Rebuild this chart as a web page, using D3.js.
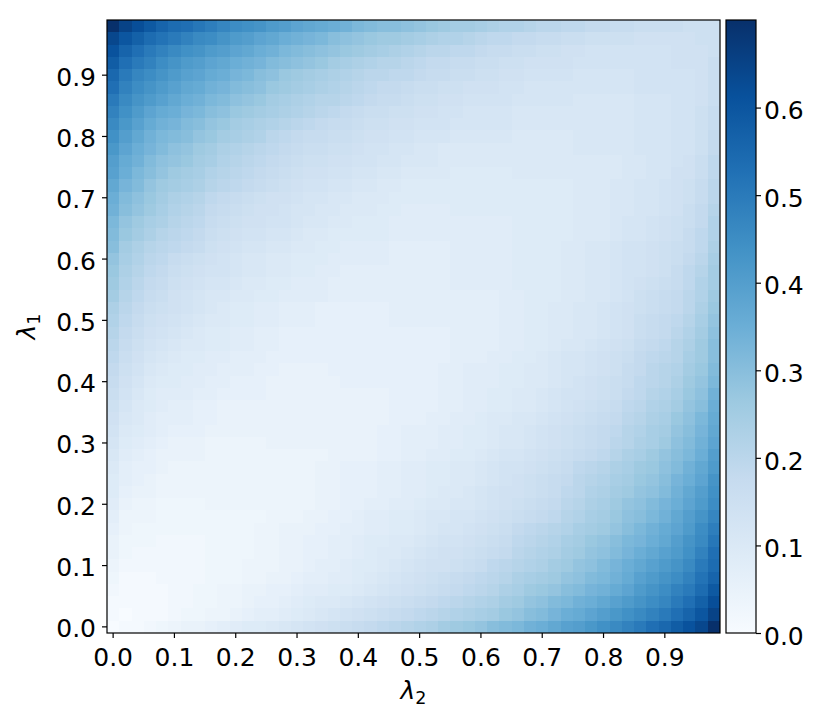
<!DOCTYPE html>
<html>
<head>
<meta charset="utf-8">
<script src="https://cdn.jsdelivr.net/npm/d3@7"></script>
<style>
  body { margin: 0; background: #fff; }
  text { font-family: "DejaVu Sans", sans-serif; }
</style>
</head>
<body>
<div id="chart"></div>
<script>
// grid steps: lambda_2 runs along x, lambda_1 along y (50 steps each)
var steps = d3.range(50);
var tickPos = [0, 5, 10, 15, 20, 25, 30, 35, 40, 45];
var tickLabels = ["0.0", "0.1", "0.2", "0.3", "0.4", "0.5", "0.6", "0.7", "0.8", "0.9"];
var cbTicks = [0.0, 0.1, 0.2, 0.3, 0.4, 0.5, 0.6];

// matplotlib "Blues" anchor colours
var blues = ["#f7fbff", "#deebf7", "#c6dbef", "#9ecae1", "#6baed6", "#4292c6", "#2171b5", "#08519c", "#08306b"];

// cell values, one row per lambda_1 step, bottom row first
var grid = [
  [.00,.01,.01,.02,.03,.04,.05,.05,.06,.07,.08,.09,.09,.10,.11,.12,.13,.14,.15,.16,.17,.18,.19,.20,.21,.22,.23,.25,.26,.27,.28,.30,.31,.32,.34,.35,.37,.39,.40,.42,.44,.46,.48,.50,.53,.55,.58,.61,.64,.70],
  [.01,.00,.01,.01,.01,.02,.03,.03,.04,.04,.05,.06,.07,.07,.08,.09,.10,.11,.12,.13,.14,.15,.16,.17,.18,.19,.20,.21,.22,.23,.24,.25,.27,.28,.30,.31,.33,.35,.36,.38,.40,.42,.44,.46,.48,.50,.53,.56,.60,.65],
  [.01,.01,.01,.01,.01,.02,.02,.03,.03,.04,.04,.05,.06,.06,.07,.08,.09,.10,.10,.11,.12,.13,.14,.15,.16,.17,.18,.19,.20,.21,.22,.23,.25,.26,.28,.29,.31,.32,.34,.35,.37,.39,.41,.43,.45,.47,.50,.53,.57,.62],
  [.02,.01,.01,.01,.01,.02,.02,.03,.03,.04,.04,.05,.05,.06,.06,.07,.08,.08,.09,.09,.10,.11,.12,.13,.14,.15,.16,.17,.18,.19,.20,.21,.23,.24,.26,.27,.28,.30,.31,.33,.34,.36,.38,.41,.43,.45,.48,.50,.54,.59],
  [.03,.01,.01,.01,.02,.02,.02,.02,.03,.03,.03,.04,.04,.05,.05,.06,.07,.07,.08,.08,.09,.10,.11,.12,.13,.14,.15,.16,.17,.18,.19,.20,.21,.23,.24,.25,.26,.28,.29,.31,.32,.34,.36,.39,.41,.43,.45,.48,.52,.56],
  [.04,.02,.02,.02,.02,.02,.02,.02,.03,.03,.03,.04,.04,.04,.05,.05,.06,.07,.07,.08,.09,.09,.10,.11,.12,.13,.14,.14,.15,.16,.17,.19,.20,.21,.22,.23,.25,.26,.28,.29,.31,.33,.35,.37,.39,.41,.43,.46,.50,.54],
  [.05,.03,.02,.02,.02,.02,.02,.02,.03,.03,.03,.03,.04,.04,.05,.05,.06,.06,.07,.07,.08,.09,.10,.10,.11,.12,.13,.14,.14,.15,.16,.17,.18,.20,.21,.22,.23,.25,.26,.28,.29,.31,.33,.35,.37,.39,.41,.44,.48,.53],
  [.05,.03,.03,.03,.02,.02,.02,.02,.03,.03,.03,.03,.04,.04,.05,.05,.06,.06,.07,.07,.08,.09,.09,.10,.10,.11,.12,.13,.13,.14,.15,.16,.17,.19,.20,.21,.22,.24,.25,.27,.28,.30,.32,.33,.35,.37,.40,.43,.46,.51],
  [.06,.04,.03,.03,.03,.03,.03,.03,.03,.03,.03,.03,.04,.04,.05,.05,.05,.06,.06,.07,.07,.08,.08,.09,.09,.10,.11,.12,.12,.13,.14,.15,.16,.18,.19,.20,.21,.22,.24,.25,.26,.28,.30,.32,.34,.36,.38,.41,.45,.49],
  [.07,.04,.04,.04,.03,.03,.03,.03,.03,.03,.03,.03,.03,.04,.04,.04,.05,.05,.06,.06,.07,.08,.08,.09,.09,.10,.11,.11,.12,.12,.13,.14,.15,.16,.17,.18,.19,.21,.22,.24,.25,.27,.29,.30,.32,.34,.37,.40,.43,.47],
  [.08,.05,.04,.04,.03,.03,.03,.03,.04,.04,.04,.04,.04,.04,.04,.04,.04,.05,.05,.06,.06,.07,.07,.08,.08,.09,.10,.10,.11,.11,.12,.13,.14,.15,.16,.17,.18,.20,.21,.23,.24,.26,.28,.29,.31,.33,.35,.38,.41,.45],
  [.09,.06,.05,.05,.04,.04,.04,.04,.04,.04,.04,.04,.04,.04,.04,.04,.04,.05,.05,.06,.06,.06,.07,.07,.08,.08,.09,.10,.10,.11,.12,.13,.14,.14,.15,.16,.17,.19,.20,.22,.23,.25,.26,.28,.29,.31,.34,.37,.40,.44],
  [.09,.07,.06,.05,.04,.04,.04,.04,.04,.04,.04,.04,.04,.04,.04,.04,.04,.05,.05,.06,.06,.06,.07,.07,.08,.08,.09,.09,.10,.10,.11,.12,.13,.14,.15,.16,.17,.18,.20,.21,.22,.24,.25,.27,.28,.30,.33,.35,.38,.43],
  [.10,.07,.06,.06,.05,.04,.04,.04,.04,.04,.04,.04,.04,.04,.04,.04,.04,.05,.05,.06,.06,.06,.07,.07,.08,.08,.09,.09,.10,.10,.11,.12,.13,.13,.14,.15,.16,.17,.19,.20,.21,.23,.24,.26,.27,.29,.31,.34,.37,.41],
  [.11,.08,.07,.06,.05,.05,.05,.05,.04,.04,.04,.04,.04,.04,.04,.04,.04,.04,.05,.05,.05,.05,.06,.06,.07,.07,.08,.08,.09,.09,.10,.11,.12,.12,.13,.14,.15,.16,.17,.18,.19,.21,.23,.24,.26,.28,.30,.32,.35,.40],
  [.12,.09,.08,.07,.06,.05,.05,.05,.04,.04,.04,.04,.04,.05,.05,.05,.05,.05,.05,.05,.05,.05,.06,.06,.07,.07,.07,.08,.08,.09,.09,.10,.11,.11,.12,.13,.14,.15,.16,.17,.18,.20,.21,.23,.24,.26,.29,.31,.34,.38],
  [.13,.10,.09,.08,.07,.06,.06,.06,.05,.05,.05,.05,.05,.05,.05,.05,.05,.05,.05,.05,.05,.05,.06,.06,.07,.07,.07,.08,.08,.09,.09,.10,.11,.11,.12,.13,.14,.15,.16,.17,.18,.19,.21,.22,.24,.25,.28,.30,.33,.37],
  [.14,.11,.10,.08,.07,.07,.07,.06,.06,.05,.05,.05,.05,.05,.05,.05,.05,.05,.05,.05,.05,.05,.05,.06,.06,.06,.07,.07,.08,.08,.09,.10,.10,.11,.11,.12,.13,.14,.15,.16,.17,.18,.20,.21,.23,.24,.27,.29,.32,.36],
  [.15,.12,.10,.09,.08,.07,.07,.06,.06,.05,.05,.05,.05,.05,.05,.05,.05,.05,.05,.05,.05,.05,.05,.06,.06,.06,.06,.07,.07,.08,.08,.09,.09,.10,.10,.11,.12,.13,.14,.15,.16,.17,.19,.20,.22,.23,.25,.28,.30,.35],
  [.16,.13,.11,.09,.08,.08,.08,.07,.07,.06,.06,.06,.06,.05,.05,.05,.05,.05,.05,.05,.05,.05,.05,.06,.06,.06,.06,.07,.07,.08,.08,.09,.09,.10,.10,.11,.12,.13,.13,.14,.15,.16,.18,.19,.21,.22,.24,.27,.29,.34],
  [.17,.14,.12,.10,.09,.09,.08,.08,.07,.07,.06,.06,.06,.05,.05,.05,.05,.05,.05,.06,.06,.06,.06,.06,.06,.06,.06,.07,.07,.08,.08,.08,.09,.09,.10,.10,.11,.12,.13,.14,.15,.16,.17,.19,.20,.21,.23,.26,.28,.32],
  [.18,.15,.13,.11,.10,.09,.09,.08,.08,.07,.07,.07,.06,.06,.05,.05,.05,.05,.06,.06,.06,.06,.06,.06,.06,.06,.06,.07,.07,.08,.08,.08,.09,.09,.10,.10,.11,.12,.12,.13,.14,.15,.17,.18,.20,.21,.22,.25,.27,.31],
  [.19,.16,.14,.12,.11,.10,.09,.09,.08,.08,.07,.07,.07,.06,.06,.06,.06,.06,.06,.06,.06,.06,.06,.06,.06,.06,.06,.06,.07,.07,.07,.08,.08,.09,.09,.10,.11,.12,.12,.13,.14,.15,.16,.18,.19,.20,.21,.24,.26,.30],
  [.20,.17,.15,.13,.12,.11,.10,.10,.09,.09,.08,.08,.07,.07,.06,.06,.06,.06,.06,.06,.06,.06,.06,.06,.06,.06,.06,.06,.07,.07,.07,.07,.08,.08,.09,.09,.10,.11,.11,.12,.13,.14,.15,.17,.18,.19,.21,.23,.26,.30],
  [.21,.18,.16,.14,.13,.12,.11,.10,.09,.09,.08,.08,.07,.07,.06,.06,.06,.06,.06,.06,.06,.06,.06,.06,.06,.06,.06,.06,.07,.07,.07,.07,.08,.08,.09,.09,.10,.10,.11,.11,.12,.13,.14,.16,.17,.18,.20,.22,.25,.29],
  [.22,.19,.17,.15,.14,.13,.12,.11,.10,.10,.09,.09,.08,.08,.07,.07,.07,.06,.06,.06,.06,.06,.06,.07,.07,.07,.07,.07,.07,.07,.07,.07,.08,.08,.09,.09,.10,.10,.11,.11,.12,.13,.14,.16,.17,.18,.19,.21,.24,.28],
  [.23,.20,.18,.16,.15,.14,.13,.12,.11,.10,.09,.09,.08,.08,.07,.07,.07,.06,.06,.06,.06,.06,.06,.07,.07,.07,.07,.07,.07,.07,.07,.07,.08,.08,.09,.09,.10,.10,.11,.11,.12,.13,.14,.15,.16,.17,.18,.20,.23,.27],
  [.25,.21,.19,.17,.16,.14,.13,.12,.11,.11,.10,.10,.09,.09,.08,.08,.08,.08,.07,.07,.07,.07,.07,.07,.07,.07,.07,.07,.07,.07,.07,.07,.08,.08,.09,.09,.09,.10,.10,.11,.11,.12,.13,.15,.16,.17,.18,.20,.22,.26],
  [.26,.22,.20,.18,.17,.15,.14,.13,.12,.12,.11,.10,.10,.09,.09,.08,.08,.08,.07,.07,.07,.07,.07,.07,.07,.07,.07,.07,.08,.08,.08,.08,.08,.09,.09,.09,.09,.10,.10,.11,.11,.12,.13,.14,.15,.16,.17,.19,.22,.25],
  [.27,.23,.21,.19,.18,.16,.15,.14,.13,.13,.12,.11,.11,.10,.10,.09,.09,.08,.08,.07,.07,.07,.07,.07,.07,.07,.07,.07,.08,.08,.08,.08,.08,.09,.09,.09,.09,.10,.10,.11,.11,.12,.13,.13,.14,.15,.17,.19,.21,.25],
  [.28,.24,.22,.20,.19,.17,.16,.15,.14,.13,.12,.11,.11,.10,.10,.09,.09,.09,.08,.08,.08,.08,.08,.07,.07,.07,.07,.07,.08,.08,.08,.08,.08,.09,.09,.09,.09,.10,.10,.11,.11,.12,.13,.13,.14,.15,.16,.18,.20,.24],
  [.30,.25,.23,.21,.20,.19,.18,.17,.15,.14,.13,.12,.12,.11,.11,.10,.10,.09,.09,.08,.08,.08,.08,.07,.07,.07,.07,.07,.08,.08,.08,.08,.08,.09,.09,.09,.09,.10,.10,.11,.11,.12,.13,.13,.14,.15,.16,.17,.19,.23],
  [.31,.27,.25,.23,.21,.20,.19,.18,.16,.15,.14,.13,.13,.12,.12,.11,.10,.10,.09,.09,.09,.09,.09,.08,.08,.08,.08,.08,.08,.08,.08,.08,.08,.09,.09,.09,.09,.09,.10,.10,.10,.11,.12,.12,.13,.14,.15,.17,.19,.22],
  [.32,.28,.26,.24,.23,.21,.20,.19,.17,.16,.15,.14,.14,.13,.13,.12,.11,.11,.10,.10,.09,.09,.09,.08,.08,.08,.08,.08,.08,.08,.08,.08,.08,.09,.09,.09,.09,.09,.10,.10,.10,.11,.12,.12,.13,.14,.15,.16,.18,.22],
  [.34,.30,.28,.26,.24,.22,.21,.20,.18,.17,.16,.15,.14,.14,.13,.12,.12,.11,.11,.10,.10,.10,.09,.09,.08,.08,.08,.08,.09,.09,.09,.09,.09,.09,.09,.09,.09,.09,.10,.10,.10,.11,.11,.12,.12,.13,.14,.16,.18,.21],
  [.35,.31,.29,.27,.25,.23,.22,.21,.19,.18,.17,.16,.15,.14,.14,.13,.12,.12,.11,.11,.10,.10,.10,.09,.09,.09,.09,.09,.09,.09,.09,.09,.09,.09,.09,.09,.09,.09,.10,.10,.10,.11,.11,.12,.12,.13,.14,.15,.17,.20],
  [.37,.33,.31,.28,.26,.25,.24,.23,.21,.20,.19,.18,.17,.16,.15,.14,.13,.13,.12,.12,.11,.11,.10,.10,.09,.09,.09,.09,.09,.09,.09,.09,.09,.09,.09,.09,.09,.09,.10,.10,.10,.11,.11,.12,.12,.13,.14,.15,.17,.20],
  [.39,.35,.32,.30,.28,.26,.25,.24,.22,.21,.20,.19,.18,.17,.16,.15,.14,.14,.13,.13,.12,.12,.11,.11,.10,.10,.10,.10,.09,.09,.09,.09,.09,.10,.10,.10,.10,.10,.10,.10,.10,.10,.11,.11,.12,.12,.14,.14,.16,.19],
  [.40,.36,.34,.31,.29,.28,.27,.25,.24,.22,.21,.20,.19,.18,.17,.16,.15,.15,.14,.14,.13,.13,.12,.12,.11,.11,.11,.10,.10,.10,.10,.10,.10,.10,.10,.10,.10,.10,.10,.10,.10,.10,.11,.11,.12,.12,.13,.14,.16,.19],
  [.42,.38,.35,.33,.31,.29,.28,.26,.25,.23,.22,.21,.20,.19,.18,.17,.16,.16,.15,.15,.14,.13,.13,.12,.12,.11,.11,.10,.10,.10,.10,.10,.10,.10,.10,.10,.10,.10,.11,.11,.11,.11,.11,.12,.12,.12,.13,.13,.15,.18],
  [.44,.40,.37,.34,.32,.31,.30,.28,.27,.25,.24,.23,.22,.20,.19,.18,.17,.17,.16,.16,.15,.14,.14,.13,.13,.12,.12,.12,.11,.11,.11,.11,.11,.10,.10,.10,.10,.10,.11,.11,.11,.11,.11,.12,.12,.12,.13,.13,.15,.18],
  [.46,.42,.39,.36,.34,.33,.31,.30,.28,.27,.25,.24,.23,.22,.21,.20,.19,.18,.17,.17,.16,.15,.15,.14,.14,.13,.13,.13,.12,.12,.12,.12,.12,.11,.11,.11,.11,.11,.11,.11,.11,.11,.11,.12,.12,.12,.13,.13,.15,.17],
  [.48,.44,.41,.38,.36,.35,.33,.32,.30,.29,.27,.26,.25,.24,.23,.22,.21,.20,.19,.18,.17,.16,.16,.15,.15,.14,.14,.13,.13,.12,.12,.12,.12,.11,.11,.11,.11,.11,.11,.11,.11,.11,.11,.12,.12,.12,.13,.13,.15,.17],
  [.50,.46,.43,.41,.39,.37,.35,.34,.32,.31,.29,.28,.27,.25,.24,.23,.22,.21,.21,.20,.19,.18,.17,.17,.16,.15,.15,.14,.14,.13,.13,.13,.13,.12,.12,.12,.12,.12,.11,.11,.11,.11,.11,.12,.12,.12,.13,.13,.14,.16],
  [.53,.48,.45,.43,.41,.39,.37,.36,.34,.33,.31,.30,.29,.27,.26,.25,.24,.23,.22,.21,.20,.19,.18,.18,.17,.16,.16,.15,.15,.14,.14,.14,.13,.13,.12,.12,.12,.12,.12,.12,.12,.12,.12,.13,.13,.13,.13,.13,.14,.16],
  [.55,.50,.47,.45,.43,.41,.39,.38,.36,.35,.33,.32,.30,.29,.27,.26,.25,.24,.23,.22,.21,.20,.20,.19,.19,.18,.17,.17,.16,.16,.15,.15,.14,.14,.13,.13,.13,.13,.12,.12,.12,.12,.12,.13,.13,.13,.13,.13,.14,.16],
  [.58,.53,.50,.48,.45,.43,.41,.40,.38,.37,.35,.34,.33,.31,.30,.29,.28,.27,.25,.24,.23,.22,.21,.21,.20,.19,.18,.18,.17,.17,.16,.16,.15,.15,.14,.14,.14,.14,.13,.13,.13,.13,.13,.13,.13,.13,.14,.14,.14,.16],
  [.61,.56,.53,.50,.48,.46,.44,.43,.41,.40,.38,.37,.35,.34,.32,.31,.30,.29,.28,.27,.26,.25,.24,.23,.22,.21,.20,.20,.19,.19,.18,.17,.17,.16,.16,.15,.15,.14,.14,.13,.13,.13,.13,.13,.13,.13,.14,.14,.14,.15],
  [.64,.60,.57,.54,.52,.50,.48,.46,.45,.43,.41,.40,.38,.37,.35,.34,.33,.32,.30,.29,.28,.27,.26,.26,.25,.24,.23,.22,.22,.21,.20,.19,.19,.18,.18,.17,.17,.16,.16,.15,.15,.15,.15,.14,.14,.14,.14,.14,.15,.15],
  [.70,.65,.62,.59,.56,.54,.53,.51,.49,.47,.45,.44,.43,.41,.40,.38,.37,.36,.35,.34,.32,.31,.30,.30,.29,.28,.27,.26,.25,.25,.24,.23,.22,.22,.21,.20,.20,.19,.19,.18,.18,.17,.17,.16,.16,.16,.16,.15,.15,.15]
];

var width = 830, height = 724;
var plotLeft = 107, plotTop = 20, side = 613;
var cbLeft = 726, cbWidth = 30;
var fontSize = 25;

var svg = d3.select("#chart").append("svg")
  .attr("width", width)
  .attr("height", height);

// set the scales (band scales so ticks fall on cell centres)
var x = d3.scaleBand().domain(steps).range([plotLeft, plotLeft + side]);
var y = d3.scaleBand().domain(steps).range([plotTop + side, plotTop]);

var vmin = d3.min(grid, function(r) { return d3.min(r); });
var vmax = d3.max(grid, function(r) { return d3.max(r); });

var color = d3.scaleLinear()
  .domain(blues.map(function(c, i) { return vmin + i * (vmax - vmin) / (blues.length - 1); }))
  .range(blues)
  .interpolate(d3.interpolateRgb);

// flatten the grid into cells
var cells = [];
grid.forEach(function(row, i) {
  row.forEach(function(v, j) {
    cells.push({ i: i, j: j, v: v });
  });
});

svg.append("g")
  .selectAll("rect")
  .data(cells)
  .enter().append("rect")
  .attr("x", function(d) { return x(d.j); })
  .attr("y", function(d) { return y(d.i); })
  .attr("width", x.bandwidth())
  .attr("height", y.bandwidth())
  .attr("fill", function(d) { return color(d.v); })
  .attr("shape-rendering", "crispEdges");

// frame
svg.append("rect")
  .attr("x", plotLeft).attr("y", plotTop)
  .attr("width", side).attr("height", side)
  .attr("fill", "none")
  .attr("stroke", "#000")
  .attr("stroke-width", 1.2);

function styleAxis(g) {
  g.select(".domain").remove();
  g.selectAll(".tick line").attr("stroke", "#000").attr("stroke-width", 1.2);
  g.selectAll(".tick text")
    .attr("font-family", "DejaVu Sans")
    .attr("font-size", fontSize)
    .attr("fill", "#000");
}

// x axis
var xAxis = svg.append("g")
  .attr("transform", "translate(0," + (plotTop + side) + ")")
  .call(d3.axisBottom(x)
    .tickValues(tickPos)
    .tickFormat(function(d, i) { return tickLabels[i]; })
    .tickSize(5)
    .tickPadding(10));
styleAxis(xAxis);

// y axis
var yAxis = svg.append("g")
  .attr("transform", "translate(" + plotLeft + ",0)")
  .call(d3.axisLeft(y)
    .tickValues(tickPos)
    .tickFormat(function(d, i) { return tickLabels[i]; })
    .tickSize(5)
    .tickPadding(6));
styleAxis(yAxis);
yAxis.selectAll(".tick text").attr("dy", "0.42em");

// axis labels
var xl = svg.append("text")
  .attr("x", plotLeft + side / 2)
  .attr("y", 699)
  .attr("text-anchor", "middle")
  .attr("font-size", fontSize);
xl.append("tspan").attr("font-style", "italic").text("λ");
xl.append("tspan").attr("font-size", fontSize * 0.7).attr("dy", 5).text("2");

var yl = svg.append("text")
  .attr("transform", "translate(35," + (plotTop + side / 2) + ") rotate(-90)")
  .attr("text-anchor", "middle")
  .attr("font-size", fontSize);
yl.append("tspan").attr("font-style", "italic").text("λ");
yl.append("tspan").attr("font-size", fontSize * 0.7).attr("dy", 5).text("1");

// colorbar
var cb = d3.scaleLinear().domain([vmin, vmax]).range([plotTop + side, plotTop]);

var grad = svg.append("defs").append("linearGradient")
  .attr("id", "cbgrad")
  .attr("x1", 0).attr("y1", 1)
  .attr("x2", 0).attr("y2", 0);
grad.selectAll("stop")
  .data(blues)
  .enter().append("stop")
  .attr("offset", function(d, i) { return i / (blues.length - 1); })
  .attr("stop-color", function(d) { return d; });

svg.append("rect")
  .attr("x", cbLeft).attr("y", plotTop)
  .attr("width", cbWidth).attr("height", side)
  .attr("fill", "url(#cbgrad)")
  .attr("stroke", "#000")
  .attr("stroke-width", 1.2);

var cbAxis = svg.append("g")
  .attr("transform", "translate(" + (cbLeft + cbWidth) + ",0)")
  .call(d3.axisRight(cb)
    .tickValues(cbTicks)
    .tickFormat(d3.format(".1f"))
    .tickSize(5)
    .tickPadding(3));
styleAxis(cbAxis);
cbAxis.selectAll(".tick text").attr("dy", "0.45em");
</script>
</body>
</html>
